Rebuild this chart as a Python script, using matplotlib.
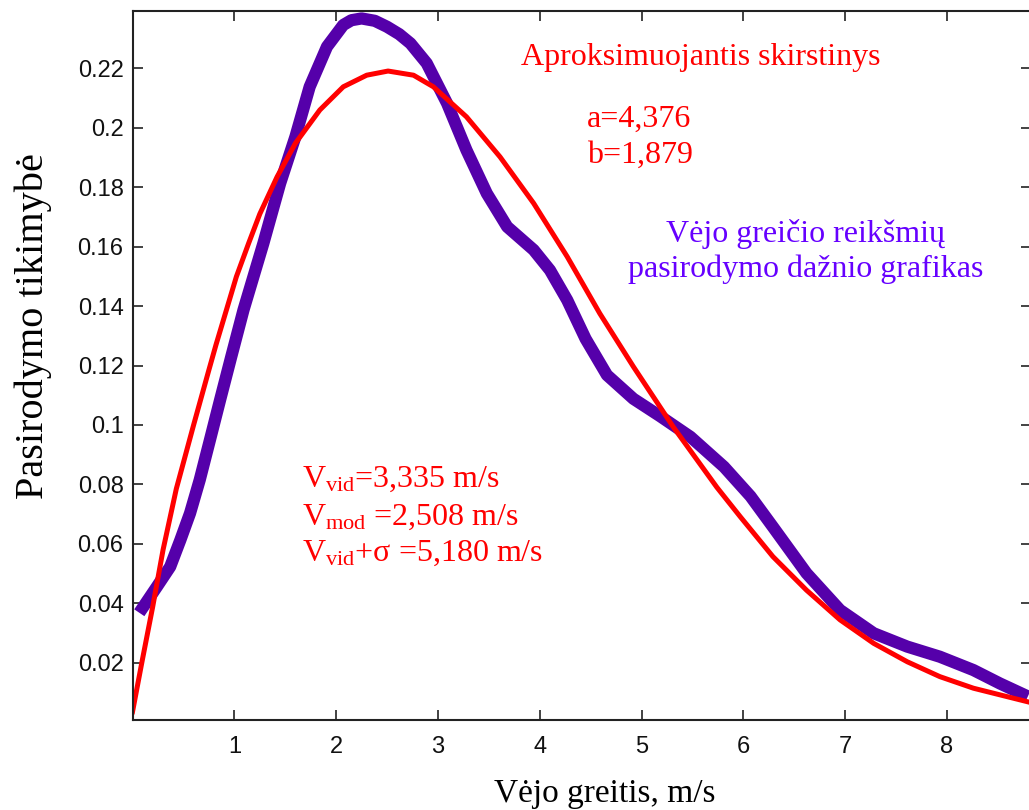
import matplotlib
matplotlib.use("Agg")
from matplotlib import pyplot as plt
import numpy as np

# measured frequency curve (thick purple)
x_freq = [0.10, 0.24, 0.37, 0.47, 0.565, 0.66, 0.76, 0.86, 0.97, 1.09, 1.285, 1.45,
          1.60, 1.74, 1.91, 2.07, 2.15, 2.25, 2.38, 2.50, 2.62, 2.73, 2.89, 3.09,
          3.28, 3.48, 3.68, 3.94, 4.10, 4.27, 4.45, 4.66, 4.92, 5.18, 5.48, 5.81,
          6.07, 6.29, 6.62, 6.95, 7.28, 7.61, 7.93, 8.26, 8.52, 8.74]
y_freq = [0.0385, 0.0456, 0.0523, 0.0613, 0.0703, 0.0815, 0.0949, 0.1084, 0.1230,
          0.1387, 0.1611, 0.1813, 0.1970, 0.2138, 0.2273, 0.2346, 0.2362, 0.2368,
          0.2360, 0.2340, 0.2315, 0.2284, 0.2217, 0.2082, 0.1925, 0.1779, 0.1667,
          0.1589, 0.1521, 0.1420, 0.1290, 0.1168, 0.1088, 0.1030, 0.0960, 0.0859,
          0.0760, 0.0657, 0.0501, 0.0377, 0.0299, 0.0254, 0.0220, 0.0175, 0.0130,
          0.0095]

# fitted distribution (red)
x_fit = [0.0, 0.09, 0.198, 0.30, 0.43, 0.60, 0.75, 0.82, 1.02, 1.14, 1.25, 1.42,
         1.60, 1.84, 2.07, 2.30, 2.51, 2.76, 2.955, 3.28, 3.61, 3.94, 4.27, 4.59,
         4.92, 5.31, 5.74, 5.97, 6.29, 6.62, 6.95, 7.28, 7.61, 7.93, 8.26, 8.82]
y_fit = [0.0035, 0.0198, 0.0388, 0.0580, 0.0785, 0.1000, 0.1185, 0.1270, 0.1499,
         0.1611, 0.1710, 0.1835, 0.1948, 0.2060, 0.2138, 0.2177, 0.2191, 0.2177,
         0.2138, 0.2037, 0.1902, 0.1746, 0.1566, 0.1375, 0.1196, 0.0994, 0.0790,
         0.0691, 0.0557, 0.0444, 0.0344, 0.0265, 0.0203, 0.0153, 0.0114, 0.0066]

x_ticks = [1, 2, 3, 4, 5, 6, 7, 8]
y_ticks = [0.02, 0.04, 0.06, 0.08, 0.1, 0.12, 0.14, 0.16, 0.18, 0.2, 0.22]
y_tick_labels = ["0.02", "0.04", "0.06", "0.08", "0.1", "0.12", "0.14",
                 "0.16", "0.18", "0.2", "0.22"]

plt.rcParams.update({"font.family": "Liberation Sans",
                     "mathtext.fontset": "custom",
                     "mathtext.rm": "Liberation Serif",
                     "mathtext.it": "Liberation Serif:italic"})

fig = plt.figure(figsize=(10.29, 8.10), dpi=100)
ax = fig.add_axes([0.1288, 0.1111, 0.8732, 0.8753])

ax.plot(x_freq, y_freq, color="#5500aa", lw=8.8, solid_joinstyle="round")
ax.plot(x_fit, y_fit, color="#ff0000", lw=3.6, solid_joinstyle="round")

ax.set_xlim(0, 8.826)
ax.set_ylim(0.0007, 0.2393)
ax.set_xticks(x_ticks)
ax.set_yticks(y_ticks)
ax.set_yticklabels(y_tick_labels)
ax.tick_params(direction="in", length=7.5, width=1.2, labelsize=17,
               top=True, right=True, color="#222222", labelcolor="#111111")
ax.tick_params(axis="x", pad=11.5)
ax.tick_params(axis="y", pad=6.5)
for s in ax.spines.values():
    s.set_linewidth(1.5)
    s.set_color("#222222")

serif = "Liberation Serif"
ax.set_xlabel("Vėjo greitis, m/s", family=serif, fontsize=24)
ax.xaxis.set_label_coords(0.525, -0.083)
ax.set_ylabel("Pasirodymo tikimybė", family=serif, fontsize=29)
ax.yaxis.set_label_coords(-0.0898, 0.555)

red = "#ff0000"
ax.text(0.432, 0.924, "Aproksimuojantis skirstinys", transform=ax.transAxes,
        color=red, family=serif, fontsize=23, va="baseline")
ax.text(0.506, 0.8368, "a=4,376", transform=ax.transAxes,
        color=red, family=serif, fontsize=23, va="baseline")
ax.text(0.506, 0.7856, "b=1,879", transform=ax.transAxes,
        color=red, family=serif, fontsize=23, va="baseline")

ax.text(0.749, 0.6746, "Vėjo greičio reikšmių", transform=ax.transAxes,
        color="#6600ff", family=serif, fontsize=23, va="baseline", ha="center")
ax.text(0.749, 0.6253, "pasirodymo dažnio grafikas", transform=ax.transAxes,
        color="#6600ff", family=serif, fontsize=23, va="baseline", ha="center")

ax.text(0.1887, 0.3286, r"V$_\mathrm{vid}$=3,335 m/s", transform=ax.transAxes,
        color=red, family=serif, fontsize=23, va="baseline")
ax.text(0.1887, 0.275, r"V$_\mathrm{mod}$ =2,508 m/s", transform=ax.transAxes,
        color=red, family=serif, fontsize=23, va="baseline")
ax.text(0.1887, 0.2243, r"V$_\mathrm{vid}$+σ =5,180 m/s", transform=ax.transAxes,
        color=red, family=serif, fontsize=23, va="baseline")

fig.savefig("out.png", dpi=100)
